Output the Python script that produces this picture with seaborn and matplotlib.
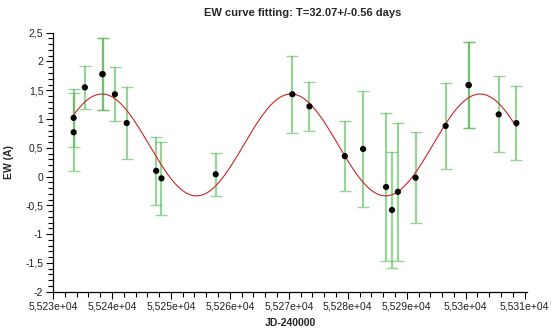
import numpy as np
import pandas as pd
import matplotlib
matplotlib.use("Agg")
import matplotlib.pyplot as plt
from matplotlib.ticker import MultipleLocator, FuncFormatter
import seaborn as sns

# ---- data ----
jd = [55233.5, 55233.5, 55235.4, 55238.4, 55238.4, 55240.5, 55242.5, 55247.5,
      55248.4, 55257.6, 55270.6, 55273.5, 55279.5, 55282.6, 55286.5, 55287.5,
      55288.5, 55291.5, 55296.6, 55300.5, 55300.5, 55305.6, 55308.6]
ew = [1.02, 0.77, 1.55, 1.78, 1.78, 1.43, 0.93, 0.10,
      -0.03, 0.04, 1.43, 1.22, 0.355, 0.48, -0.18, -0.58,
      -0.265, -0.02, 0.88, 1.59, 1.59, 1.08, 0.93]
ew_err = [0.50, 0.68, 0.38, 0.62, 0.62, 0.47, 0.62, 0.59,
          0.63, 0.37, 0.67, 0.42, 0.61, 1.01, 1.28, 1.01,
          1.20, 0.79, 0.75, 0.75, 0.75, 0.66, 0.65]

# fitted sinusoid parameters (from title period)
fit_period = 32.07
fit_amplitude = 0.885
fit_offset = 0.55
fit_peak_jd = 55238.3

title = "EW curve fitting: T=32.07+/-0.56 days"
xlabel = "JD-240000"
ylabel = "EW (A)"

df = pd.DataFrame({"jd": jd, "ew": ew, "err": ew_err})
xfit = np.linspace(min(jd), max(jd), 400)
yfit = fit_offset + fit_amplitude * np.cos(2 * np.pi * (xfit - fit_peak_jd) / fit_period)
dfit = pd.DataFrame({"jd": xfit, "ew": yfit})

sns.set_theme(style="white")
plt.rcParams["font.family"] = ["Liberation Sans", "DejaVu Sans"]

fig = plt.figure(figsize=(5.6, 3.36), dpi=100)
ax = fig.add_axes([53 / 560, 44.3 / 336, 474 / 560, 259 / 336])

ax.errorbar(df["jd"], df["ew"], yerr=df["err"], fmt="none",
            ecolor=(0.33, 0.72, 0.33), alpha=0.6, elinewidth=1.6,
            capsize=4, capthick=1.0, zorder=1)
sns.lineplot(data=dfit, x="jd", y="ew", ax=ax, color=(0.78, 0.15, 0.15),
             linewidth=0.8, zorder=2)
sns.scatterplot(data=df, x="jd", y="ew", ax=ax, color="black", s=20,
                edgecolor="none", zorder=3)

ax.set_xlim(55230, 55310.4)
ax.set_ylim(-2, 2.5)
ax.xaxis.set_major_locator(MultipleLocator(10))
ax.xaxis.set_minor_locator(MultipleLocator(2))
ax.yaxis.set_major_locator(MultipleLocator(0.5))
ax.yaxis.set_minor_locator(MultipleLocator(0.1))
ax.xaxis.set_major_formatter(FuncFormatter(
    lambda v, p: f"{v / 1e4:g}".replace(".", ",") + "e+04"))
ax.yaxis.set_major_formatter(FuncFormatter(
    lambda v, p: f"{v:g}".replace(".", ",").replace("\u2212", "-")))

for s in ["top", "right"]:
    ax.spines[s].set_visible(False)
for s in ["left", "bottom"]:
    ax.spines[s].set_color("black")
    ax.spines[s].set_linewidth(0.9)

ax.tick_params(which="major", direction="out", length=5, width=0.8,
               color="black", labelsize=7.5, pad=2, labelcolor="#222222")
ax.tick_params(which="minor", direction="out", length=3.5, width=0.8,
               color="black")
ax.tick_params(axis="x", which="both", bottom=True)
ax.tick_params(axis="y", which="both", left=True)

ax.set_xlabel(xlabel, fontsize=7.5, fontweight="bold", labelpad=5)
ax.set_ylabel(ylabel, fontsize=7.5, fontweight="bold", labelpad=8)
ax.grid(False)

fig.text(303 / 560, 1 - 13 / 336, title, ha="center", va="center",
         fontsize=8, fontweight="bold")

fig.savefig("out.png", dpi=100)
